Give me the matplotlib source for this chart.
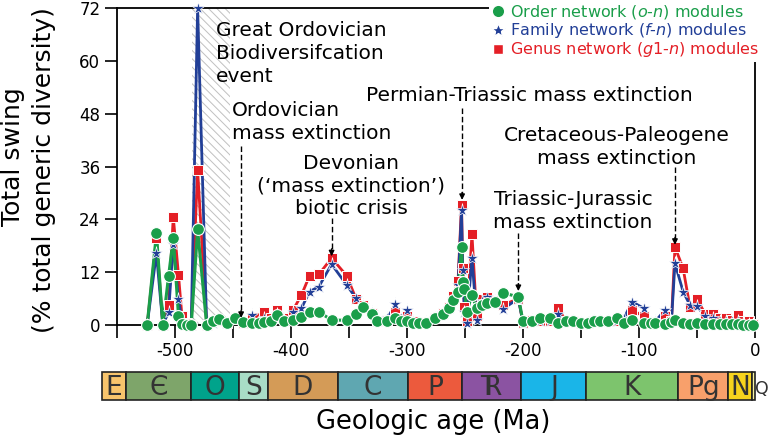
import matplotlib
matplotlib.use('Agg')
import matplotlib.pyplot as plt
from matplotlib.lines import Line2D

plt.rcParams['font.family'] = 'DejaVu Sans'
plt.rcParams['mathtext.fontset'] = 'dejavusans'
plt.rcParams['axes.unicode_minus'] = False
plt.rcParams['hatch.linewidth'] = 0.7

# ---- data (age in Ma, total swing in %) ----
ages = [-524, -516, -510.5, -505.5, -501.5, -497, -494, -490, -486, -480.5,
        -472.7, -467, -462, -455, -448, -441, -434, -428, -423, -417,
        -412, -406, -398, -391, -384, -376, -365, -352, -344, -338,
        -330, -326, -317, -310, -305, -300, -295, -290, -284, -276,
        -269, -264, -260, -256, -253, -252, -250.5, -248.5, -244, -240,
        -235, -231, -224, -217.5, -204, -200, -192, -185, -177, -170,
        -163, -157, -150, -144, -139, -134, -127, -119, -113, -106,
        -96, -90, -86, -78, -72, -69, -62, -56, -50, -43,
        -36, -30, -25, -20, -15, -10, -5, -2]
order_mod = [0, 20.8, 0, 11.2, 19.7, 2.1, 0.2, 0, 0, 21.7,
             0, 0.8, 1.3, 0.5, 1.5, 0.6, 0.5, 0.4, 0.6, 0.8,
             2.3, 0.8, 1.1, 1.9, 3.0, 3.0, 1.1, 1.1, 2.5, 4.2,
             2.6, 0.8, 0.8, 1.5, 0.8, 1.0, 0.5, 0.5, 0.5, 1.5,
             2.6, 3.8, 5.7, 7.6, 17.8, 9.8, 8.2, 3.0, 6.8, 3.8,
             4.5, 4.9, 5.3, 7.3, 6.4, 0.8, 1.0, 1.5, 1.5, 0.5,
             1.0, 1.0, 0.5, 0.5, 1.0, 0.8, 1.0, 1.5, 0.5, 1.1,
             0.5, 0.5, 0.5, 0.3, 0.6, 1.1, 0.5, 0.3, 0.5, 0.3,
             0.3, 0.3, 0.2, 0.2, 0.2, 0.1, 0.1, 0.1]
family_mod = [0, 16.3, 0, 3.0, 18.5, 5.8, 1.0, 0.2, 0, 72,
              0, 0.5, 0.8, 0.4, 1.2, 0.4, 2.3, 0.8, 1.5, 0.8,
              2.5, 1.2, 3.0, 3.8, 7.6, 8.7, 13.8, 9.1, 6.1, 4.5,
              3.0, 1.0, 1.5, 4.7, 1.5, 3.4, 0.8, 0.5, 0.6, 1.5,
              2.8, 3.8, 6.0, 9.0, 26.1, 12.5, 3.0, 0.4, 15.3, 1.2,
              5.5, 6.4, 5.5, 3.6, 6.0, 0.5, 1.2, 1.0, 1.0, 2.5,
              1.0, 0.8, 0.5, 0.5, 1.0, 0.8, 0.8, 1.0, 1.5, 5.3,
              3.8, 0.5, 0.8, 3.3, 1.0, 14.0, 7.6, 4.5, 4.3, 2.0,
              1.5, 1.0, 1.0, 0.8, 1.0, 0.5, 0.3, 0.2]
genus_mod = [0, 19.7, 0, 4.5, 24.6, 11.4, 2.0, 0.5, 0, 35.2,
             0, 0.8, 1.0, 0.5, 1.3, 0.5, 1.5, 1.8, 3.0, 1.5,
             3.5, 1.5, 3.5, 6.8, 11.2, 11.5, 15.2, 11.2, 6.0, 4.5,
             2.8, 1.0, 1.2, 3.0, 1.5, 2.0, 0.8, 0.5, 0.6, 1.5,
             2.8, 4.0, 6.5, 10.0, 27.3, 13.0, 4.0, 1.0, 20.6, 2.0,
             6.0, 6.4, 5.0, 4.5, 6.0, 0.5, 1.2, 1.0, 1.0, 3.8,
             1.0, 0.8, 0.5, 0.5, 1.0, 0.8, 0.8, 1.0, 1.0, 3.4,
             2.0, 0.5, 0.5, 2.0, 1.0, 17.7, 12.9, 4.0, 5.8, 2.6,
             2.6, 1.5, 1.5, 1.2, 2.3, 1.0, 0.8, 0.3]

# Triassic symbol: T and R sharing one stem
periods = ['E', 'Є', 'O', 'S', 'D', 'C', 'P', '$\\mathrm{T}\\!\\!\\!\\mathrm{R}$',
           'J', 'K', 'Pg', 'N', 'Q']
period_start = [-562, -541, -485.4, -443.8, -419.2, -358.9, -298.9, -251.9,
                -201.3, -145, -66, -23, -2.58]
period_end = period_start[1:] + [0]
period_colors = ['#f7c46c', '#7ea56a', '#00a38b', '#a8dcc6', '#d49b57', '#5fa7b1',
                 '#ec5a3d', '#8b53a2', '#1ab5e8', '#7dc46d', '#f8a06b', '#f7d31d',
                 '#f7f3a0']

green = '#1a9e4a'
blue = '#223f97'
red = '#e41f26'

fig = plt.figure(figsize=(7.68, 4.41), dpi=100)
ax = fig.add_axes([117 / 768, 1 - 325 / 441, 638 / 768, 317 / 441])
ax.set_xlim(-549, 0)
ax.set_ylim(0, 72)
px_per_ma = 638 / 549

# GOBE shading
ax.axvspan(-485, -453, facecolor='none', edgecolor='#c0c0c0', hatch='\\\\\\\\',
           lw=0, zorder=0)

# lines first, then markers
ax.plot(ages, genus_mod, color=red, lw=2, zorder=2, clip_on=False)
ax.plot(ages, family_mod, color=blue, lw=2, zorder=3, clip_on=False)
ax.plot(ages, order_mod, color=green, lw=2.2, zorder=4, clip_on=False)
ax.plot(ages, genus_mod, ls='none', marker='s', ms=6.5, mfc=red, mec='white',
        mew=0.7, zorder=5, clip_on=False)
ax.plot(ages, family_mod, ls='none', marker='*', ms=9.5, mfc=blue, mec='white',
        mew=0.5, zorder=6, clip_on=False)
ax.plot(ages, order_mod, ls='none', marker='o', ms=8.5, mfc=green, mec='white',
        mew=0.8, zorder=7, clip_on=False)

ax.set_xticks(range(-500, 1, 100))
ax.set_xticks(range(-550, 0, 100), minor=True)
ax.set_yticks(range(0, 73, 12))
ax.tick_params(which='both', direction='out', length=9, width=1.2, labelsize=12, pad=3)
for sp in ax.spines.values():
    sp.set_linewidth(1.3)


def pointer(x, y_from, y_to):
    ax.plot([x, x], [y_from, y_to + 1.2], color='k', lw=1, ls=(0, (4, 2)), zorder=8)
    ax.annotate('', xy=(x, y_to), xytext=(x, y_to + 1.7),
                arrowprops=dict(arrowstyle='-|>', color='k', lw=1, mutation_scale=8,
                                shrinkA=0, shrinkB=0), zorder=8)


# annotations (y = baseline of the last line)
tfs = 14.5
ax.text(-464.5, 55.3, 'Great Ordovician\nBiodiversifcation\nevent', ha='left',
        va='baseline', fontsize=tfs, linespacing=1.25)
ax.text(-451, 42.2, 'Ordovician\nmass extinction', ha='left', va='baseline',
        fontsize=tfs, linespacing=1.25)
ax.text(-348, 25.2, 'Devonian\n(‘mass extinction’)\nbiotic crisis', ha='center',
        va='baseline', fontsize=tfs, linespacing=1.25, multialignment='center')
ax.text(-335, 50.9, 'Permian-Triassic mass extinction', ha='left', va='baseline',
        fontsize=tfs)
ax.text(-157, 22.0, 'Triassic-Jurassic\nmass extinction', ha='center', va='baseline',
        fontsize=tfs, linespacing=1.25, multialignment='center')
ax.text(-119.4, 36.6, 'Cretaceous-Paleogene\nmass extinction', ha='center',
        va='baseline', fontsize=tfs, linespacing=1.25, multialignment='center')

pointer(-443, 40.7, 1.6)
pointer(-365, 24.3, 15.6)
pointer(-252.5, 49.3, 28.4)
pointer(-204, 20.9, 7.7)
pointer(-69, 35.9, 18.2)

# legend
handles = [Line2D([], [], ls='none', marker='o', ms=9, mfc=green, mec='white'),
           Line2D([], [], ls='none', marker='*', ms=10, mfc=blue, mec='white'),
           Line2D([], [], ls='none', marker='s', ms=7, mfc=red, mec='white')]
labels = ['Order network ($\\mathit{o}$-$\\mathit{n}$) modules',
          'Family network ($\\mathit{f}$-$\\mathit{n}$) modules',
          'Genus network ($\\mathit{g1}$-$\\mathit{n}$) modules']
fig.legend(handles, labels, loc='upper right', bbox_to_anchor=(762 / 768, 1 - 1 / 441),
           fontsize=11.5, labelcolor=[green, blue, red], frameon=True,
           facecolor='white', edgecolor='none', framealpha=1, fancybox=False,
           borderpad=0.15, labelspacing=0.0, handlelength=0.8, handletextpad=0.4,
           borderaxespad=0)

# geologic time scale bar
bar_w = 653.3
bar_font = ['Liberation Sans Narrow', 'DejaVu Sans']
bfs = 19
ax2 = fig.add_axes([101.7 / 768, 1 - 400 / 441, bar_w / 768, 28.3 / 441])
ax2.set_xlim(-bar_w / px_per_ma, 0)
ax2.set_ylim(-0.5, 0.5)
ax2.axis('off')
for name, s, e, c in zip(periods, period_start, period_end, period_colors):
    ax2.barh(0, e - s, left=s, height=1, color=c, edgecolor='#222222', lw=1.2,
             clip_on=False)
    if name == 'Q':
        ax2.text(0.4, -0.28, name, ha='left', va='baseline', fontsize=12.5,
                 family=bar_font, color='#333333', clip_on=False)
    else:
        ax2.text((s + e) / 2, -0.33, name, ha='center', va='baseline', fontsize=bfs,
                 family=bar_font, color='#333333')

fig.text(433 / 768, 1 - 422 / 441, 'Geologic age (Ma)', ha='center', va='center',
         fontsize=18.5)
fig.text(13 / 768, 1 - 157 / 441, 'Total swing', rotation=90, ha='center',
         va='center', fontsize=18)
fig.text(44 / 768, 1 - 170 / 441, '(% total generic diversity)', rotation=90,
         ha='center', va='center', fontsize=18)

fig.savefig('out.png', dpi=100)
